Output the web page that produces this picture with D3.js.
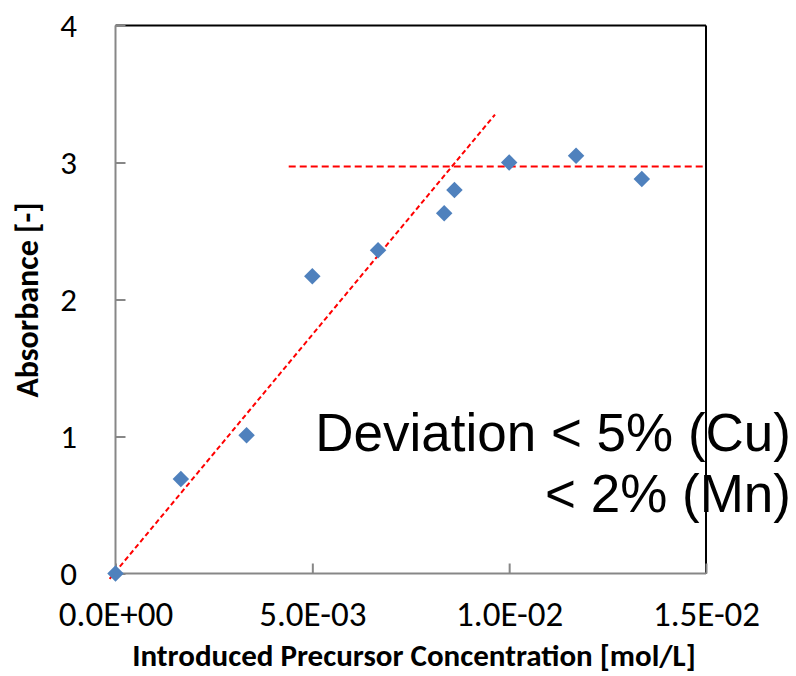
<!DOCTYPE html>
<html>
<head>
<meta charset="utf-8">
<script src="https://cdn.jsdelivr.net/npm/d3@7"></script>
<style>
  body { margin: 0; background: #fff; }
  svg { display: block; }
  .tick text { font-family: Carlito, Lato, sans-serif; fill: #000; }
</style>
</head>
<body>
<div id="chart"></div>
<script>
// concentration [mol/L] and absorbance [-]
var concentration = [0, 0.00166, 0.00333, 0.0050, 0.00667, 0.00835, 0.00861, 0.0100, 0.01170, 0.01337];
var absorbance    = [0, 0.69, 1.01, 2.17, 2.36, 2.63, 2.80, 3.00, 3.05, 2.88];

// guide lines (dashed red)
var slopeLine   = [[-0.00015, -0.04], [0.00964, 3.35]];
var plateauLine = [[0.00440, 2.97], [0.01492, 2.97]];

var xTicks = [0, 0.005, 0.01, 0.015];
var yTicks = [0, 1, 2, 3, 4];

var noteLines = ["Deviation < 5% (Cu)", "< 2% (Mn)"];

var W = 796, H = 676;
var svg = d3.select("#chart").append("svg")
	.attr("width", W)
	.attr("height", H);

var x = d3.scaleLinear().domain([0, 0.015]).range([115.5, 706]);
var y = d3.scaleLinear().domain([0, 4]).range([573.5, 25.5]);

// format like excel: 5.0E-03
function sci(v) {
	var s = v.toExponential(1).split("e");
	var e = parseInt(s[1], 10);
	var sign = e < 0 ? "-" : "+";
	var ab = Math.abs(e);
	return s[0] + "E" + sign + (ab < 10 ? "0" + ab : ab);
}

// annotation text sits under the frame
var note = svg.append("g")
	.attr("font-family", "Liberation Sans, Arial, sans-serif")
	.attr("font-size", 53)
	.attr("fill", "#000");
note.append("text")
	.attr("x", 791).attr("y", 451)
	.attr("text-anchor", "end")
	.text(noteLines[0]);
note.append("text")
	.attr("x", 791).attr("y", 512)
	.attr("text-anchor", "end")
	.text(noteLines[1]);

// frame: top and right are black, axes are grey
svg.append("line")
	.attr("x1", x(0)).attr("x2", x(0.015))
	.attr("y1", y(4)).attr("y2", y(4))
	.attr("stroke", "#000").attr("stroke-width", 2);
svg.append("line")
	.attr("x1", x(0.015)).attr("x2", x(0.015))
	.attr("y1", y(4)).attr("y2", y(0))
	.attr("stroke", "#000").attr("stroke-width", 2);

var yAxis = svg.append("g")
	.attr("transform", "translate(" + x(0) + ",0)")
	.call(d3.axisLeft(y).tickValues(yTicks).tickSize(-10).tickPadding(38.5).tickFormat(d3.format("d")));
yAxis.selectAll("text").attr("font-size", 33).attr("dy", "0.34em");

var xAxis = svg.append("g")
	.attr("transform", "translate(0," + y(0) + ")")
	.call(d3.axisBottom(x).tickValues(xTicks).tickSize(-10).tickPadding(0).tickFormat(sci));
xAxis.selectAll("text").attr("font-size", 35).attr("y", 52).attr("dy", 0);

svg.selectAll(".domain").attr("stroke", "#878787").attr("stroke-width", 2);
svg.selectAll(".tick line").attr("stroke", "#878787").attr("stroke-width", 2);
yAxis.select(".domain").attr("d", "M0," + y(0) + "V" + y(4));
xAxis.select(".domain").attr("d", "M" + x(0) + ",0H" + x(0.015));

// dashed guides
var line = d3.line().x(function(d) { return x(d[0]); }).y(function(d) { return y(d[1]); });
svg.append("path")
	.attr("d", line(slopeLine))
	.attr("fill", "none")
	.attr("stroke", "#ff0000")
	.attr("stroke-width", 2)
	.attr("stroke-dasharray", "5,3");
svg.append("path")
	.attr("d", line(plateauLine))
	.attr("fill", "none")
	.attr("stroke", "#ff0000")
	.attr("stroke-width", 2)
	.attr("stroke-dasharray", "7,4");

// diamond markers
var pts = concentration.map(function(c, i) { return [c, absorbance[i]]; });
svg.selectAll(".pt")
	.data(pts)
	.enter().append("path")
	.attr("class", "pt")
	.attr("d", d3.symbol().type(d3.symbolSquare).size(136))
	.attr("transform", function(d) { return "translate(" + x(d[0]) + "," + y(d[1]) + ") rotate(45)"; })
	.attr("fill", "#4f81bd");

// axis titles
svg.append("text")
	.attr("x", 414).attr("y", 666)
	.attr("text-anchor", "middle")
	.attr("font-family", "Carlito, Lato, sans-serif")
	.attr("font-weight", "bold")
	.attr("font-size", 31)
	.text("Introduced Precursor Concentration [mol/L]");
svg.append("text")
	.attr("transform", "translate(38,300) rotate(-90)")
	.attr("text-anchor", "middle")
	.attr("font-family", "Carlito, Lato, sans-serif")
	.attr("font-weight", "bold")
	.attr("font-size", 32)
	.text("Absorbance [-]");
</script>
</body>
</html>
